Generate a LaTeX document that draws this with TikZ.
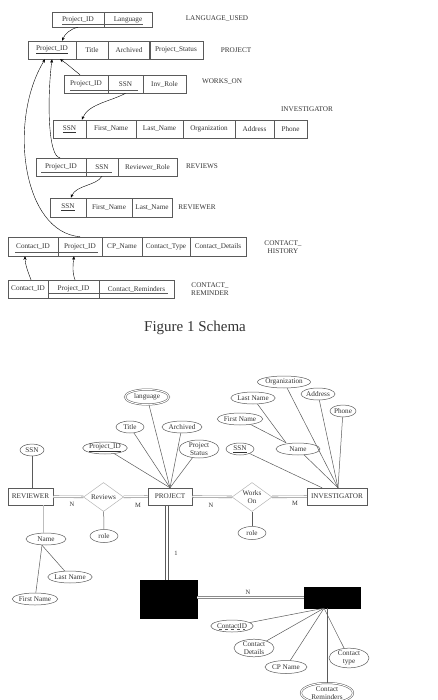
\documentclass[tikz,border=0pt]{standalone}
\usepackage{fontspec}
\setmainfont{Liberation Serif}
\usepackage{tikz}
\usetikzlibrary{shapes.geometric,arrows.meta,calc}
\definecolor{linegray}{HTML}{5A5A5A}
\definecolor{textgray}{HTML}{333333}

\begin{document}
\begin{tikzpicture}[x=1pt,y=-1pt,
  every node/.style={text=textgray, font=\fontsize{7.2}{7.6}\selectfont},
  cell/.style={draw=linegray, line width=0.5pt, inner sep=0pt, minimum height=18pt},
  lbl/.style={inner sep=0pt, align=center},
  ul/.style={draw=linegray, line width=0.5pt},
  fk/.style={draw=black, line width=0.4pt, -{Stealth[length=3.5pt,width=3pt]}},
  ent/.style={draw=linegray, line width=0.5pt, inner sep=0pt, minimum height=17pt},
  rel/.style={diamond, draw=linegray!45, line width=0.5pt, inner sep=0pt, aspect=1.4, align=center},
  attr/.style={ellipse, draw=linegray, line width=0.5pt, inner sep=0pt, minimum height=12pt, align=center},
  dattr/.style={attr, double, double distance=1pt},
  ln/.style={draw=linegray, line width=0.5pt},
  dbl/.style={draw=linegray!70, line width=0.6pt, double=white, double distance=1.2pt},
  card/.style={inner sep=0pt, font=\fontsize{6.5}{7}\selectfont},
  blk/.style={fill=black, draw=black, inner sep=0pt}]

  \useasboundingbox (0,0) rectangle (437,700);

  % Tablas del esquema
  \foreach \n/\cx/\w/\t in {lu1/78/52/Project\_ID, lu2/128/48/Language}
    \node[cell, minimum width=\w pt, minimum height=15pt] (\n) at (\cx,19.5) {\t};
  \foreach \n/\cx/\w/\t in {pr1/52/48/\underline{Project\_ID}, pr2/92/32/Title,
      pr3/129/42/Archived, pr4/176/54/Project\_Status}
    \node[cell, minimum width=\w pt] (\n) at (\cx,50) {\t};
  \foreach \n/\cx/\w/\t in {wo1/86/44/Project\_ID, wo2/125.5/35/SSN, wo3/164.5/43/Inv\_Role}
    \node[cell, minimum width=\w pt] (\n) at (\cx,84) {\t};
  \foreach \n/\cx/\w/\t in {in1/69.5/33/\underline{SSN}, in2/111/50/First\_Name,
      in3/159.5/47/Last\_Name, in4/209/52/Organization, in5/254.5/39/Address, in6/290.5/33/Phone}
    \node[cell, minimum width=\w pt] (\n) at (\cx,129) {\t};
  \foreach \n/\cx/\w/\t in {rv1/61/50/Project\_ID, rv2/102/32/SSN, rv3/147.5/59/Reviewer\_Role}
    \node[cell, minimum width=\w pt] (\n) at (\cx,167) {\t};
  \foreach \n/\cx/\w/\t in {re1/68/36/\underline{SSN}, re2/109/46/First\_Name, re3/152/40/Last\_Name}
    \node[cell, minimum width=\w pt, minimum height=19pt] (\n) at (\cx,207.5) {\t};
  \foreach \n/\cx/\w/\t in {ch1/33/50/Contact\_ID, ch2/80/44/Project\_ID, ch3/122/40/CP\_Name,
      ch4/166/48/Contact\_Type, ch5/218/56/Contact\_Details}
    \node[cell, minimum width=\w pt, minimum height=19pt] (\n) at (\cx,246.5) {\t};
  \foreach \n/\cx/\w/\t in {cr1/28/40/Contact\_ID, cr2/73.5/51/Project\_ID, cr3/136.5/75/Contact\_Reminders}
    \node[cell, minimum width=\w pt] (\n) at (\cx,289) {\t};

  % Claves compuestas
  \draw[ul] ([xshift=-16pt,yshift=-5pt]lu1.center) -- ([xshift=15pt,yshift=-5pt]lu2.center);
  \draw[ul] ([xshift=-16pt,yshift=-6pt]wo1.center) -- ([xshift=12.5pt,yshift=-6pt]wo2.center);
  \draw[ul] ([xshift=-20pt,yshift=-5pt]rv1.center) -- ([xshift=10pt,yshift=-5pt]rv2.center);
  \draw[ul] ([xshift=-18pt,yshift=-5.5pt]ch1.center) -- ([xshift=18pt,yshift=-5.5pt]ch2.center);
  \draw[ul] ([xshift=-25pt,yshift=-4pt]cr2.center) -- ([xshift=31.5pt,yshift=-4pt]cr3.center);

  % Nombres de las tablas
  \node[lbl] (lulbl) at (217,19) {LANGUAGE\_USED};
  \node[lbl] (prlbl) at (236,50) {PROJECT};
  \node[lbl] (wolbl) at (222,82) {WORKS\_ON};
  \node[lbl] (inlbl) at (307,109) {INVESTIGATOR};
  \node[lbl] (rvlbl) at (202,166) {REVIEWS};
  \node[lbl] (relbl) at (197,207) {REVIEWER};
  \node[lbl] (chlbl) at (283,247) {CONTACT\_\\HISTORY};
  \node[lbl] (crlbl) at (210,289) {CONTACT\_\\REMINDER};
  \node[font=\fontsize{15}{18}\selectfont] (cap) at (195,328) {Figure 1 Schema};

  % Claves foraneas
  \draw[fk] (lu1.south) .. controls (70,29) and (65,34) .. ([xshift=10pt]pr1.north);
  \draw[fk] ([xshift=-6pt]wo1.north) .. controls (74,70) and (66,63) .. ([xshift=8pt]pr1.south);
  \draw[fk] (wo2.south) .. controls (112,101) and (88,104) .. ([xshift=12.5pt]in1.north);
  \draw[fk] ([xshift=-1pt]rv1.north) .. controls (48,157) and (47,100) .. (pr1.south);
  \draw[fk] (ch2.north) .. controls (22,232) and (8,120) .. ([xshift=-7pt]pr1.south);
  \draw[fk] ([xshift=3pt]cr1.north) .. controls (28,272) and (25,264) .. ([xshift=-8pt]ch1.south);
  \draw[fk] ([xshift=1.5pt]cr2.north) .. controls (72,272) and (73,264) .. ([xshift=-6pt]ch2.south);
  \draw[fk] (rv2.south) .. controls (96,186) and (76,185) .. ([xshift=3pt]re1.north);

  % Diagrama E-R: entidades y relaciones
  \node[ent, minimum width=45pt] (rvr) at (30.5,496.5) {REVIEWER};
  \node[rel, minimum width=40pt, minimum height=29pt] (revs) at (103.5,497) {Reviews};
  \node[ent, minimum width=44pt] (proj) at (170,496.5) {PROJECT};
  \node[rel, minimum width=40pt, minimum height=29pt] (works) at (252,497) {Works\\On};
  \node[ent, minimum width=60pt] (inv) at (337,496.5) {INVESTIGATOR};
  \node[blk, minimum width=57pt, minimum height=38pt] (blk1) at (168.5,599) {};
  \node[blk, minimum width=56pt, minimum height=21pt] (blk2) at (332,597.5) {};

  \draw[dbl] (rvr) -- (revs);
  \draw[dbl] (revs) -- (proj);
  \draw[dbl] (proj) -- (works);
  \draw[dbl] (works) -- (inv);
  \draw[ln] ([xshift=-5pt]proj.south) -- ([xshift=-3.5pt]blk1.north);
  \draw[ln] ([xshift=-2pt]proj.south) -- ([xshift=-0.5pt]blk1.north);
  \draw[dbl] (blk1.east |- blk2.west) -- (blk2.west);

  % Cardinalidades
  \node[card] (c1) at (72,504) {N};
  \node[card] (c2) at (138,505) {M};
  \node[card] (c3) at (211,505) {N};
  \node[card] (c4) at (295,503) {M};
  \node[card] (c5) at (176,553) {1};
  \node[card] (c6) at (248,592) {N};

  % Atributos de las relaciones
  \node[attr, minimum width=28pt, minimum height=13pt] (role1) at (104,536) {role};
  \node[attr, minimum width=28pt, minimum height=13pt] (role2) at (252,533) {role};
  \draw[ln] (revs) -- (role1);
  \draw[ln] (works) -- (role2);

  % Atributos de REVIEWER
  \node[attr, minimum width=24pt] (rssn) at (32,450) {SSN};
  \node[attr, minimum width=40pt] (rname) at (46,539) {Name};
  \node[attr, minimum width=40pt] (rlast) at (70,577) {Last Name};
  \node[attr, minimum width=40pt] (rfirst) at (35,599) {First Name};
  \draw[ln] (rssn.south) -- (rssn.south |- rvr.north);
  \draw[draw=linegray!40, line width=0.5pt] ([xshift=-3pt]rname.north |- rvr.south) -- ([xshift=-3pt]rname.north);
  \draw[ln] ([xshift=-4pt]rname.south) -- (rlast);
  \draw[ln] ([xshift=-4pt]rname.south) -- (rfirst);

  % Atributos de PROJECT
  \node[dattr, minimum width=44pt, minimum height=15pt] (plang) at (147,397) {language};
  \node[attr, minimum width=28pt] (ptitle) at (130,427) {Title};
  \node[attr, minimum width=40pt] (parch) at (182,427) {Archived};
  \node[attr, minimum width=40pt, minimum height=18pt] (pstat) at (199,449) {Project\\Status};
  \node[attr, minimum width=44pt] (pid) at (105,448) {\underline{Project\_ID}};
  \foreach \a in {plang,ptitle,parch,pstat,pid}
    \draw[ln] (proj.north) -- (\a);

  % Atributos de INVESTIGATOR
  \node[attr, minimum width=48pt] (iorg) at (284,382) {Organization};
  \node[attr, minimum width=38pt] (ilast) at (253,398) {Last Name};
  \node[attr, minimum width=34pt] (iaddr) at (318,394) {Address};
  \node[attr, minimum width=26pt] (iphone) at (343,411) {Phone};
  \node[attr, minimum width=40pt] (ifirst) at (240,419) {First Name};
  \node[attr, minimum width=28pt] (issn) at (240,449) {\underline{SSN}};
  \node[attr, minimum width=44pt] (iname) at (298,449) {Name};
  \draw[ln] (ilast) -- ([xshift=-12pt]iname.north);
  \draw[ln] (ifirst) -- ([xshift=-12pt]iname.north);
  \foreach \a in {iname,iorg,iaddr,iphone}
    \draw[ln] ([xshift=1pt]inv.north) -- (\a);
  \draw[ln] (issn) -- ([xshift=-15pt]inv.north);

  % Atributos de la entidad debil
  \coordinate (hub) at ([xshift=-8pt]blk2.south);
  \node[attr, minimum width=40pt] (cid) at (232,626) {ContactID};
  \node[attr, minimum width=40pt, minimum height=17pt] (cdet) at (254,648) {Contact\\Details};
  \node[attr, minimum width=42pt, minimum height=13pt] (cpn) at (286,667) {CP Name};
  \node[attr, minimum width=40pt, minimum height=18pt] (ctype) at (349,658) {Contact\\type};
  \node[dattr, minimum width=52pt, minimum height=20pt] (crem) at (327,693) {Contact\\Reminders};
  \draw[ul, dashed] ([xshift=-13pt,yshift=-3.5pt]cid.center) -- ([xshift=13pt,yshift=-3.5pt]cid.center);
  \foreach \a in {cid,cdet,cpn,ctype}
    \draw[ln] (hub) -- (\a);
  \draw[ln] (hub -| crem.north) -- (crem.north);

\end{tikzpicture}
\end{document}
